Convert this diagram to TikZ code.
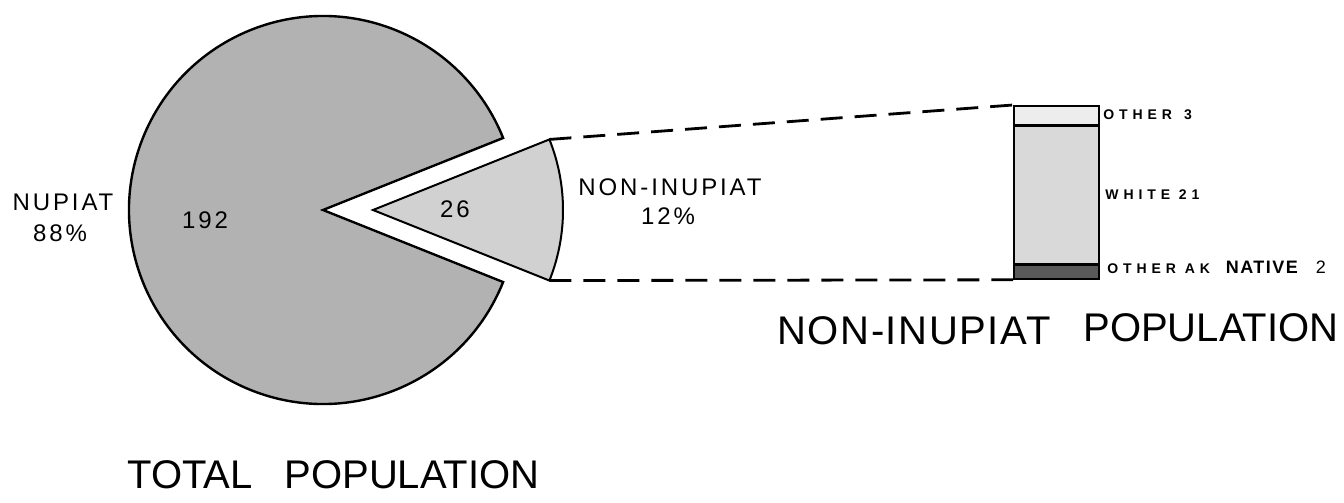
\documentclass[tikz,border=0pt]{standalone}
\usepackage{fontspec}
\setmainfont{Liberation Sans}
\newfontfamily\widefont[LetterSpace=12]{Liberation Sans}
\newfontfamily\xwidefont[LetterSpace=35]{Liberation Sans}
\newfontfamily\mwidefont[LetterSpace=8]{Liberation Sans}
\newfontfamily\titlewide[LetterSpace=4]{Liberation Sans}
\usetikzlibrary{calc}
\definecolor{piegray}{gray}{0.70}
\definecolor{slicegray}{gray}{0.82}
\definecolor{whitegray}{gray}{0.85}
\definecolor{othgray}{gray}{0.93}
\definecolor{akgray}{gray}{0.35}
\begin{document}
\begin{tikzpicture}[x=0.5pt,y=-0.5pt,
  piestyle/.style={draw=black, line width=1.2pt, fill=piegray},
  slicestyle/.style={draw=black, line width=1.0pt, fill=slicegray},
  lead/.style={draw=black, line width=1.4pt, dash pattern=on 11pt off 6pt},
  barseg/.style={draw=black, line width=0.8pt, rectangle, inner sep=0pt, minimum width=42.5pt},
  pielabel/.style={font=\widefont\fontsize{12}{14}\selectfont, align=center, inner sep=0pt},
  barlabel/.style={font=\xwidefont\bfseries\fontsize{7}{8}\selectfont, anchor=west, inner sep=0pt},
  title/.style={font=\fontsize{20}{24}\selectfont, anchor=west, inner sep=0pt}]
\useasboundingbox (0,0) rectangle (1344,503);
\fill[white] (0,0) rectangle (1344,503);
% main pie
\coordinate (mc) at (323,210);
\draw[piestyle] (mc) -- ($(mc)+(21.8:194)$) arc (21.8:338.2:194) -- cycle;
% exploded slice
\coordinate (sc) at (373,210);
\coordinate (stop) at ($(sc)+(-21.8:190)$);
\coordinate (sbot) at ($(sc)+(21.8:190)$);
\draw[slicestyle] (sc) -- (stop) arc (-21.8:21.8:190) -- cycle;
% stacked bar
\node[barseg, fill=othgray, minimum height=9.5pt, anchor=north west] (oth) at (1013,105) {};
\node[barseg, fill=whitegray, minimum height=68.5pt, anchor=north west] (wht) at (oth.south west) {};
\node[barseg, fill=akgray, minimum height=7pt, anchor=north west] (akn) at (wht.south west) {};
\draw[line width=1.6pt] (wht.north west) -- (wht.north east);
% dashed leaders
\draw[lead] (stop) -- (oth.north west);
\draw[lead] (sbot) -- (akn.south west);
% labels
\node[pielabel] (n192) at (205,220) {192};
\node[pielabel] (n26) at (455,209) {26};
\node[pielabel] (nup) at (63,202) {NUPIAT};
\node[pielabel] (nup88) at (60,233) {88\%};
\node[pielabel] (non) at (670,187) {NON-INUPIAT};
\node[pielabel] (non12) at (668,216) {12\%};
\node[barlabel] (lo3) at (1103,115) {OTHER\hspace{6pt}3};
\node[barlabel] (lw21) at (1105,195) {WHITE 21};
\node[barlabel] (lak) at (1107,267) {OTHER AK\hspace{8pt}{\mwidefont\fontsize{9}{10}\selectfont NATIVE}\hspace{9pt}{\fontsize{9}{10}\selectfont\mdseries 2}};
\node[title, font=\titlewide\fontsize{20}{24}\selectfont] (t1a) at (777,331) {NON-INUPIAT};
\node[title] (t1b) at (1083,328) {POPULATION};
\node[title] (t2) at (127,475) {TOTAL\hspace{0.8em}POPULATION};
\end{tikzpicture}
\end{document}
